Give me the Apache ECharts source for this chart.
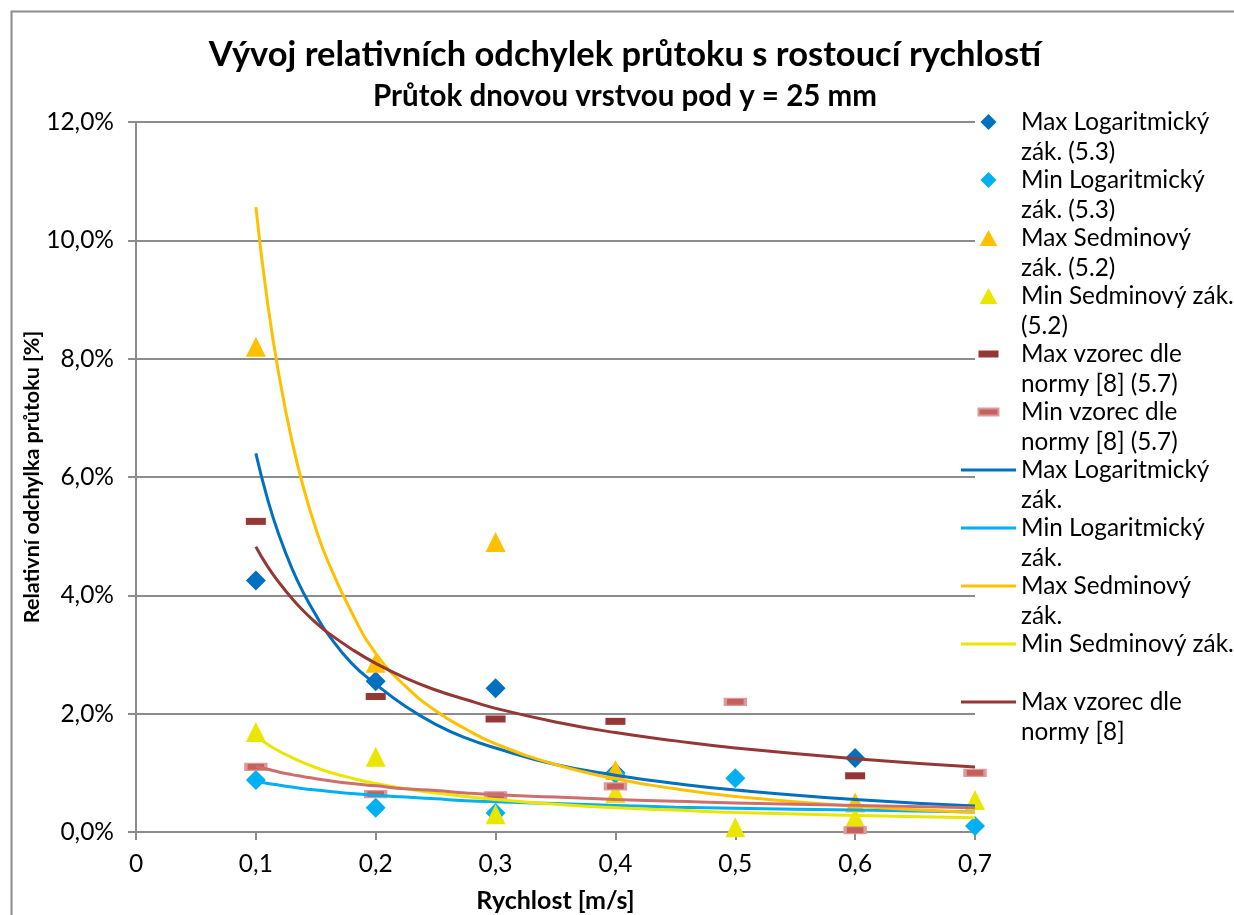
<!DOCTYPE html>
<html>
<head>
<meta charset="utf-8">
<script src="https://cdn.jsdelivr.net/npm/echarts@6/dist/echarts.min.js"></script>
<style>
html,body{margin:0;padding:0;background:#fff;}
#chart{width:1234px;height:915px;}
</style>
</head>
<body>
<div id="chart"></div>
<script>
// ---- data ----
const xVals = [0.1, 0.2, 0.3, 0.4, 0.5, 0.6, 0.7];
const maxLog = [4.25, 2.55, 2.43, 1.0, null, 1.25, null];
const minLog = [0.88, 0.41, 0.32, 0.98, 0.91, null, 0.1];
const maxSed = [8.2, 2.86, 4.9, 1.05, null, 0.5, null];
const minSed = [1.69, 1.27, 0.3, 0.66, 0.08, 0.24, 0.54];
const maxVz = [5.25, 2.29, 1.91, 1.87, null, 0.95, null];
const minVz = [1.1, 0.64, 0.62, 0.77, 2.2, 0.03, 1.0];

// trendlines
const trendX = [0.1, 0.11, 0.12, 0.13, 0.14, 0.15, 0.16, 0.18, 0.2, 0.225, 0.25, 0.275, 0.3, 0.35, 0.4, 0.45, 0.5, 0.6, 0.7];
const maxLogTrend = [6.4, 5.61, 4.98, 4.46, 4.03, 3.67, 3.35, 2.85, 2.5, 2.12, 1.82, 1.59, 1.42, 1.14, 0.96, 0.82, 0.71, 0.55, 0.44];
const minLogTrend = [0.86, 0.82, 0.79, 0.76, 0.73, 0.71, 0.69, 0.65, 0.62, 0.59, 0.56, 0.53, 0.51, 0.48, 0.45, 0.42, 0.40, 0.37, 0.34];
const maxSedTrend = [10.56, 8.91, 7.64, 6.62, 5.80, 5.13, 4.58, 3.71, 3.02, 2.46, 2.05, 1.74, 1.49, 1.14, 0.90, 0.73, 0.60, 0.435, 0.33];
const minSedTrend = [1.63, 1.48, 1.36, 1.26, 1.17, 1.09, 1.02, 0.91, 0.82, 0.73, 0.66, 0.60, 0.55, 0.47, 0.41, 0.37, 0.33, 0.28, 0.24];
const maxVzTrend = [4.82, 4.48, 4.20, 3.95, 3.73, 3.54, 3.37, 3.09, 2.85, 2.60, 2.40, 2.24, 2.09, 1.86, 1.68, 1.54, 1.42, 1.24, 1.10];
const minVzTrend = [1.11, 1.06, 1.01, 0.97, 0.935, 0.90, 0.87, 0.82, 0.78, 0.73, 0.70, 0.66, 0.63, 0.59, 0.55, 0.52, 0.49, 0.45, 0.41];

const seriesNames = [
  'Max Logaritmický zák. (5.3)', 'Min Logaritmický zák. (5.3)',
  'Max Sedminový zák. (5.2)', 'Min Sedminový zák. (5.2)',
  'Max vzorec dle normy [8] (5.7)', 'Min vzorec dle normy [8] (5.7)',
  'Max Logaritmický zák.', 'Min Logaritmický zák.',
  'Max Sedminový zák.', 'Min Sedminový zák.',
  'Max vzorec dle normy [8]', 'Min vzorec dle normy [8]'
];
const legendLabels = [
  'Max Logaritmický\nzák. (5.3)', 'Min Logaritmický\nzák. (5.3)',
  'Max Sedminový\nzák. (5.2)', 'Min Sedminový zák.\n(5.2)',
  'Max vzorec dle\nnormy [8] (5.7)', 'Min vzorec dle\nnormy [8] (5.7)',
  'Max Logaritmický\nzák.', 'Min Logaritmický\nzák.',
  'Max Sedminový\nzák.', 'Min Sedminový zák.\n ',
  'Max vzorec dle\nnormy [8]'
];

const pair = (xs, ys) => xs.map((x, i) => [x, ys[i]]).filter(p => p[1] !== null);

const FONT = 'Lato';
const icons = {
  diamond: 'path://M0,0M55,16M27.5,-2L37.5,8L27.5,18L17.5,8Z',
  triangle: 'path://M0,0M55,16M27.5,-1L37.5,17H17.5Z',
  dash: 'path://M0,0M55,16M17.5,4.5H37.5V11.5H17.5Z',
  line: 'path://M0,0M55,16M0,6.5H55V9.5H0Z'
};
const legendIcons = ['diamond', 'diamond', 'triangle', 'triangle', 'dash', 'dash', 'line', 'line', 'line', 'line', 'line'];

const chart = echarts.init(document.getElementById('chart'), null, {renderer: 'canvas'});

function scatter(name, data, symbol, size, color, extra) {
  return Object.assign({
    name, type: 'scatter', data, symbol, symbolSize: size,
    itemStyle: {color, opacity: 1},
    emphasis: {disabled: true}, z: 2
  }, extra || {});
}
function trend(name, data, color) {
  return {
    name, type: 'line', data, smooth: true,
    showSymbol: false, symbol: 'none',
    lineStyle: {color, width: 3}, itemStyle: {color},
    emphasis: {disabled: true}, z: 3
  };
}

const option = {
  animation: false,
  backgroundColor: '#fff',
  textStyle: {fontFamily: FONT},
  graphic: [{
    type: 'rect', left: 9, top: 9, silent: true,
    shape: {width: 1400, height: 1000},
    style: {fill: 'none', stroke: '#8c8c8c', lineWidth: 2}
  }],
  title: [{
    text: 'Vývoj relativních odchylek průtoku s rostoucí rychlostí',
    left: 625, top: 37, padding: 0, textAlign: 'center',
    textStyle: {fontFamily: FONT, fontWeight: 'bold', fontSize: 34.5, color: '#000'}
  }, {
    text: 'Průtok dnovou vrstvou pod y = 25 mm',
    left: 625, top: 81, padding: 0, textAlign: 'center',
    textStyle: {fontFamily: FONT, fontWeight: 'bold', fontSize: 29.5, color: '#000'}
  }],
  grid: {left: 136, right: 259, top: 122, bottom: 83, containLabel: false, outerBoundsMode: 'none'},
  legend: {
    type: 'plain', orient: 'vertical', left: 960, top: 77, padding: 0,
    itemWidth: 55, itemHeight: 16, itemGap: -32,
    selectedMode: false,
    data: seriesNames.slice(0, 11).map((n, i) => ({name: n, icon: icons[legendIcons[i]]})),
    formatter: name => '\n' + legendLabels[seriesNames.indexOf(name)],
    textStyle: {fontFamily: FONT, fontSize: 24.3, color: '#000', lineHeight: 30}
  },
  xAxis: {
    type: 'value', min: 0, max: 0.7, interval: 0.1,
    name: 'Rychlost [m/s]', nameLocation: 'middle', nameGap: 56,
    nameMoveOverlap: false,
    nameTextStyle: {fontFamily: FONT, fontWeight: 'bold', fontSize: 25, color: '#000'},
    axisLine: {show: true, onZero: false, lineStyle: {color: '#8c8c8c', width: 2}},
    axisTick: {show: true, inside: false, length: 8, lineStyle: {color: '#8c8c8c', width: 2}},
    axisLabel: {
      margin: 20, fontFamily: FONT, fontSize: 24.5, color: '#000',
      formatter: v => v === 0 ? '0' : (Math.round(v * 10) / 10).toFixed(1).replace('.', ',')
    },
    splitLine: {show: false}
  },
  yAxis: {
    type: 'value', min: 0, max: 12, interval: 2,
    name: 'Relativní odchylka průtoku [%]', nameLocation: 'middle', nameGap: 93,
    nameMoveOverlap: false,
    nameTextStyle: {fontFamily: FONT, fontWeight: 'bold', fontSize: 21.5, color: '#000'},
    axisLine: {show: true, lineStyle: {color: '#8c8c8c', width: 2}},
    axisTick: {show: true, inside: false, length: 8, lineStyle: {color: '#8c8c8c', width: 2}},
    axisLabel: {
      margin: 22, fontFamily: FONT, fontSize: 24.5, color: '#000',
      formatter: v => v.toFixed(1).replace('.', ',') + '%'
    },
    splitLine: {show: true, lineStyle: {color: '#8c8c8c', width: 2}}
  },
  series: [
    scatter(seriesNames[0], pair(xVals, maxLog), 'diamond', 20, '#0070C0'),
    scatter(seriesNames[1], pair(xVals, minLog), 'diamond', 20, '#00B0F0'),
    scatter(seriesNames[2], pair(xVals, maxSed), 'triangle', 20, '#FFC000'),
    scatter(seriesNames[3], pair(xVals, minSed), 'triangle', 20, '#EAE600'),
    scatter(seriesNames[4], pair(xVals, maxVz), 'rect', [20, 7], '#953735'),
    scatter(seriesNames[5], pair(xVals, minVz), 'rect', [20, 7], '#C4615E',
      {itemStyle: {color: '#C4615E', borderColor: '#DE9A98', borderWidth: 2, opacity: 1}}),
    trend(seriesNames[6], pair(trendX, maxLogTrend), '#0070C0'),
    trend(seriesNames[7], pair(trendX, minLogTrend), '#00B0F0'),
    trend(seriesNames[8], pair(trendX, maxSedTrend), '#FFC000'),
    trend(seriesNames[9], pair(trendX, minSedTrend), '#EAE600'),
    trend(seriesNames[10], pair(trendX, maxVzTrend), '#953735'),
    trend(seriesNames[11], pair(trendX, minVzTrend), '#CD6F6D')
  ]
};
chart.setOption(option);
</script>
</body>
</html>
